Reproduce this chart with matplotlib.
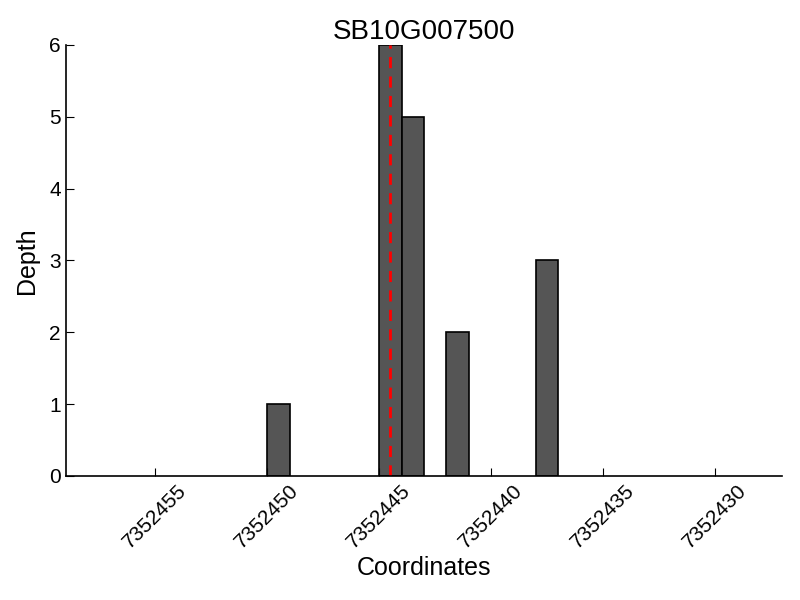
import matplotlib
matplotlib.use('Agg')
import matplotlib.pyplot as plt

# read depth per coordinate (left edge of each 1-bp bin)
coords = [7352450, 7352445, 7352444, 7352442, 7352438]
depths = [1, 6, 5, 2, 3]
site = 7352444.5
title = 'SB10G007500'
xticks = [7352455, 7352450, 7352445, 7352440, 7352435, 7352430]

plt.rcParams['font.family'] = ['Liberation Sans', 'DejaVu Sans']

fig = plt.figure(figsize=(8, 6), dpi=100)
ax = fig.add_axes([0.082, 0.207, 0.896, 0.718])

ax.bar(coords, depths, width=-1, align='edge', color='#555555',
       edgecolor='black', linewidth=1.2)
ax.axvline(site, color='red', linestyle='--', linewidth=2, dashes=(4, 3))

ax.set_xlim(7352459, 7352427)
ax.set_ylim(0, 6)
ax.set_xticks(xticks)
ax.set_xticklabels([str(t) for t in xticks], rotation=45)

for s in ['top', 'right']:
    ax.spines[s].set_visible(False)
for s in ['left', 'bottom']:
    ax.spines[s].set_linewidth(1.2)
ax.tick_params(direction='in', length=6, labelsize=15, top=False, right=False)

ax.set_title(title, fontsize=20, pad=4)
ax.set_xlabel('Coordinates', fontsize=18, labelpad=3)
ax.set_ylabel('Depth', fontsize=18, labelpad=7)

fig.savefig('out.png', dpi=100, facecolor='white')
